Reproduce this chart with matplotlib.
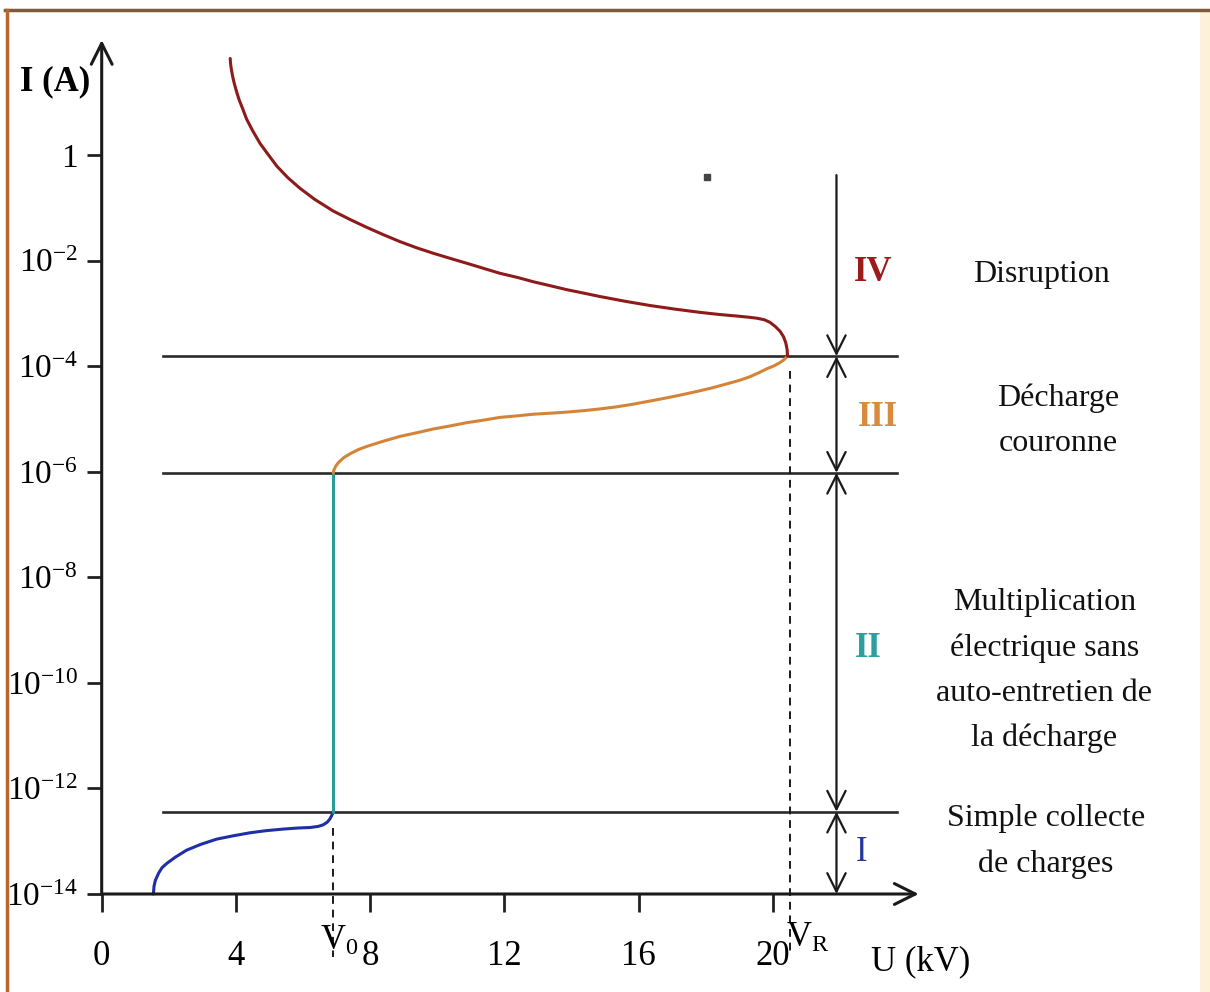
import matplotlib
matplotlib.use("Agg")
import matplotlib.pyplot as plt
from matplotlib.lines import Line2D
from matplotlib.patches import Rectangle
from matplotlib.ticker import NullLocator
import numpy as np

plt.rcParams['font.family'] = ['Liberation Serif', 'DejaVu Serif']
plt.rcParams['mathtext.fontset'] = 'custom'
plt.rcParams['mathtext.rm'] = 'Liberation Serif'
plt.rcParams['mathtext.it'] = 'Liberation Serif:italic'
plt.rcParams['mathtext.bf'] = 'Liberation Serif:bold'

# ---------------- data (U in kV, log10 of I in A) ----------------
blue_U = [1.54, 1.56, 1.60, 1.70, 1.80, 1.94, 2.20, 2.53, 2.95, 3.43, 3.90, 4.42, 4.90,
          5.41, 5.85, 6.21, 6.45, 6.60, 6.72, 6.80, 6.85, 6.88, 6.90]
blue_log10_I = [-14.0, -13.85, -13.74, -13.60, -13.50, -13.42, -13.30, -13.17, -13.06, -12.96, -12.90, -12.84, -12.80,
                -12.77, -12.75, -12.74, -12.72, -12.69, -12.64, -12.58, -12.52, -12.48, -12.44]

teal_U = [6.9, 6.9]
teal_log10_I = [-12.44, -6.02]

orange_U = [6.90, 6.92, 6.97, 7.05, 7.20, 7.40, 7.65, 7.90, 8.40, 8.89, 9.40, 9.88, 10.40, 10.88,
            11.40, 11.87, 12.40, 12.86, 13.40, 13.86, 14.40, 14.85, 15.35, 15.84, 16.34, 16.84,
            17.30, 17.80, 18.20, 18.60, 19.00, 19.32, 19.60, 19.82, 20.05, 20.22, 20.35, 20.44]
orange_log10_I = [-6.02, -5.97, -5.90, -5.83, -5.74, -5.66, -5.58, -5.52, -5.42, -5.33, -5.26, -5.19, -5.13, -5.07,
                  -5.02, -4.97, -4.94, -4.91, -4.89, -4.87, -4.84, -4.81, -4.77, -4.72, -4.66, -4.60,
                  -4.54, -4.47, -4.41, -4.34, -4.27, -4.20, -4.12, -4.05, -3.99, -3.93, -3.87, -3.81]

red_U = [3.83, 3.84, 3.86, 3.90, 3.95, 4.02, 4.10, 4.20, 4.32, 4.50, 4.72, 4.95, 5.22, 5.55, 5.91,
         6.35, 6.90, 7.40, 7.90, 8.40, 8.89, 9.40, 9.88, 10.40, 10.88, 11.40, 11.87, 12.40, 12.86,
         13.40, 13.86, 14.40, 14.85, 15.60, 16.34, 17.10, 17.83, 18.40, 18.93, 19.25, 19.52, 19.75,
         19.92, 20.08, 20.22, 20.32, 20.39, 20.43, 20.44]
red_log10_I = [1.83, 1.74, 1.64, 1.50, 1.36, 1.20, 1.04, 0.88, 0.68, 0.46, 0.22, 0.02, -0.21, -0.43, -0.63,
               -0.84, -1.06, -1.22, -1.37, -1.51, -1.64, -1.76, -1.86, -1.96, -2.05, -2.15, -2.24, -2.32, -2.40,
               -2.48, -2.55, -2.62, -2.68, -2.77, -2.85, -2.92, -2.98, -3.02, -3.05, -3.07, -3.09, -3.12,
               -3.17, -3.25, -3.34, -3.44, -3.56, -3.69, -3.81]

region_bounds_log10 = [-3.81, -6.02, -12.44]   # horizontal separators
V0 = 6.9
VR = 20.5

x_ticks = [0, 4, 8, 12, 16, 20]
x_ticklabels = ['0', '4', '8', '12', '16', '20']
y_tick_exps = [0, -2, -4, -6, -8, -10, -12, -14]
y_ticklabels = ['1'] + [r'$\mathregular{10^{%d}}$' % e for e in y_tick_exps[1:]]

numerals = ['IV', 'III', 'II', 'I']
numeral_colors = ['#9b1b1b', '#d98a3c', '#2e9e9e', '#27369a']
numeral_log10 = [-2.22, -4.98, -9.34, -13.22]
numeral_U = [23.0, 23.14, 22.84, 22.66]
numeral_weights = ['bold', 'bold', 'bold', 'normal']

descriptions = ['Disruption', 'Décharge\ncouronne',
                'Multiplication\nélectrique sans\nauto-entretien de\nla décharge',
                'Simple collecte\nde charges']
description_U = [28.0, 28.5, 28.1, 28.15]
description_log10 = [-2.27, -5.04, -9.77, -13.01]

# ---------------- figure ----------------
W, H = 1210, 992
fig = plt.figure(figsize=(W / 100, H / 100), dpi=100)
fig.patch.set_facecolor('white')

x0_px, x_end_px = 101.7, 917.0
y_bot_px, y_top_px = 894.0, 40.0
ax = fig.add_axes([x0_px / W, (H - y_bot_px) / H, (x_end_px - x0_px) / W, (y_bot_px - y_top_px) / H])
ax.set_facecolor('none')
ax.set_xlim(0, 24.3)
ax.set_yscale('log')
ax.set_ylim(1e-14, 10 ** 2.18)
for s in ax.spines.values():
    s.set_visible(False)

ax.set_xticks(x_ticks)
ax.set_xticklabels(x_ticklabels)
ax.set_yticks([10.0 ** e for e in y_tick_exps])
ax.set_yticklabels(y_ticklabels)
ax.yaxis.set_minor_locator(NullLocator())
ax.xaxis.set_minor_locator(NullLocator())
ax.tick_params(axis='y', direction='out', length=11, width=2, color='#222222', labelsize=24, pad=6)
ax.tick_params(axis='x', direction='out', length=13, width=2, color='#222222', labelsize=25, pad=20)

# axis arrows
arrow_style = '->, head_length=0.6, head_width=0.3'
ax.annotate('', xy=(0, 10 ** 2.18), xytext=(0, 1e-14), annotation_clip=False,
            arrowprops=dict(arrowstyle=arrow_style, lw=2.2, color='#1a1a1a', shrinkA=0, shrinkB=0, mutation_scale=25))
ax.annotate('', xy=(24.35, 1e-14), xytext=(0, 1e-14), annotation_clip=False,
            arrowprops=dict(arrowstyle=arrow_style, lw=2.2, color='#1a1a1a', shrinkA=0, shrinkB=0, mutation_scale=25))

# region separators
for b in region_bounds_log10:
    ax.plot([1.83, 23.7], [10.0 ** b, 10.0 ** b], color='#2a2a2a', lw=1.9, clip_on=False)

# dashed verticals
ax.plot([V0, V0], [10 ** -12.75, 10 ** -15.2], color='#1a1a1a', lw=1.4, ls=(0, (4, 3)), clip_on=False)
ax.plot([VR, VR], [10 ** -4.1, 10 ** -15.15], color='#1a1a1a', lw=1.4, ls=(0, (4, 3)), clip_on=False)

# curves
kw = dict(lw=2.2, clip_on=False, solid_capstyle='round', solid_joinstyle='round')
ax.plot(blue_U, 10.0 ** np.array(blue_log10_I), color='#1f2fa5', **kw)
ax.plot(teal_U, 10.0 ** np.array(teal_log10_I), color='#2a9a9a', **kw)
ax.plot(orange_U, 10.0 ** np.array(orange_log10_I), color='#d48438', **kw)
ax.plot(red_U, 10.0 ** np.array(red_log10_I), color='#8e1a1a', **kw)

# stray dot
ax.plot([18.05], [10 ** -0.42], marker='s', ms=5, color='#444444', clip_on=False)

# region arrows
xa = 21.9
ax.annotate('', xy=(xa, 10 ** -3.81), xytext=(xa, 10 ** -0.38), annotation_clip=False,
            arrowprops=dict(arrowstyle=arrow_style, lw=1.6, color='#1a1a1a', shrinkA=0, shrinkB=0, mutation_scale=22))
both = '<->, head_length=0.6, head_width=0.3'
for top, bot in [(-3.81, -6.02), (-6.02, -12.44), (-12.44, -14.0)]:
    ax.annotate('', xy=(xa, 10 ** bot), xytext=(xa, 10 ** top), annotation_clip=False,
                arrowprops=dict(arrowstyle=both, lw=1.6, color='#1a1a1a', shrinkA=0, shrinkB=0, mutation_scale=22))

# numerals
for t, c, u, l, w in zip(numerals, numeral_colors, numeral_U, numeral_log10, numeral_weights):
    ax.text(u, 10 ** l, t, color=c, fontsize=25, fontweight=w, ha='center', va='center', clip_on=False)

# descriptions
for t, u, l in zip(descriptions, description_U, description_log10):
    ax.text(u, 10 ** l, t, color='#111111', fontsize=23, ha='center', va='center',
            linespacing=1.72, clip_on=False)

# axis labels
ax.text(-0.35, 10 ** 1.38, 'I (A)', fontsize=25, fontweight='bold', ha='right', va='center', clip_on=False)
ax.text(24.42, 10 ** -15.29, 'U (kV)', fontsize=25, ha='center', va='center', clip_on=False)
ax.text(6.5, 10 ** -14.59, r'$\mathregular{V_0}$', fontsize=25, ha='left', va='top', clip_on=False)
ax.text(20.4, 10 ** -14.53, r'$\mathregular{V_R}$', fontsize=25, ha='left', va='top', clip_on=False)

# frame decorations
fig.add_artist(Rectangle((1200 / W, 0), 10 / W, 1 - 9 / H, transform=fig.transFigure,
                         facecolor='#fdf1da', edgecolor='none'))
fig.add_artist(Line2D([5 / W, 1.0], [1 - 9.5 / H, 1 - 9.5 / H], transform=fig.transFigure,
                      color='#7d5a3a', lw=2.5))
fig.add_artist(Line2D([6.5 / W, 6.5 / W], [0, 1 - 9.5 / H], transform=fig.transFigure,
                      color='#b8682a', lw=2.5))

fig.savefig('out.png', dpi=100, facecolor='white')
